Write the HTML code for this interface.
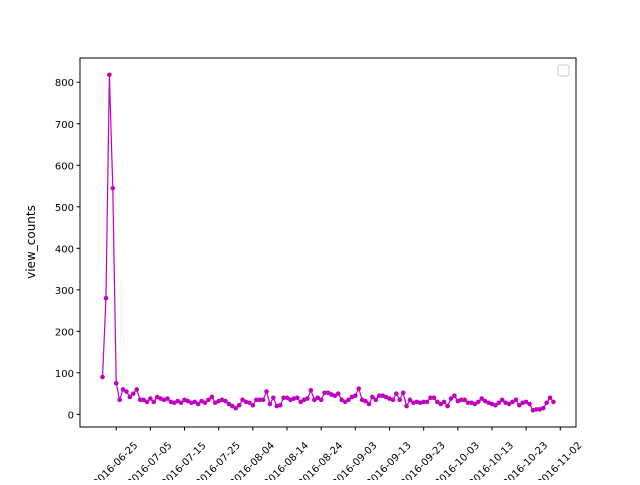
<!DOCTYPE html>
<html><head><meta charset="utf-8"><style>
body{margin:0;background:#fff;overflow:hidden}
svg{font-family:"DejaVu Sans","Liberation Sans",sans-serif}
</style></head><body>
<svg id="chart" width="640" height="480" viewBox="0 0 640 480">
<rect x="0" y="0" width="640" height="480" fill="#fff"/>
<g id="grid"></g>
<g id="series"></g>
<rect x="80" y="58" width="496" height="369" fill="none" stroke="#000" stroke-width="1"/>
<rect x="558" y="65" width="11" height="11" rx="2" fill="#fff" stroke="#ccc"/>
<text x="35" y="242" font-size="12" text-anchor="middle" transform="rotate(-90 35 242)">view_counts</text>
</svg>
<script>
const startDate = "2016-06-21";
const viewCounts = [90,280,818,545,75,35,60,55,42,50,
60,35,35,30,38,30,42,38,35,38,
30,28,32,28,35,32,28,30,25,32,
28,35,42,28,32,35,32,25,20,15,22,
35,30,28,22,35,35,35,55,25,40,
20,22,40,40,35,38,40,30,35,38,
58,35,40,35,52,52,48,45,50,35,30,
35,42,45,62,35,32,25,42,35,45,
45,42,38,35,50,35,52,20,35,28,
30,28,30,30,40,40,30,25,30,20,
38,45,32,35,35,28,28,25,30,38,
32,28,25,22,28,35,28,25,30,35,
22,28,30,25,10,12,12,15,28,40,30];
const yTicks = [0,100,200,300,400,500,600,700,800];
const xTickLabels = ["2016-06-25","2016-07-05","2016-07-15","2016-07-25","2016-08-04","2016-08-14","2016-08-24","2016-09-03","2016-09-13","2016-09-23","2016-10-03","2016-10-13","2016-10-23","2016-11-02"];

const NS="http://www.w3.org/2000/svg";
const L=80,R=576,T=58,B=427;
const DAY=86400000;
const t0=Date.parse(startDate);
const n=viewCounts.length;
const span=n-1, xmin=-span*0.05, xmax=span*1.05;
const vmin=Math.min(...viewCounts), vmax=Math.max(...viewCounts);
const ymin=vmin-(vmax-vmin)*0.05, ymax=vmax+(vmax-vmin)*0.05;
const xs=d=>L+(d-xmin)/(xmax-xmin)*(R-L);
const ys=v=>B-(v-ymin)/(ymax-ymin)*(B-T);
const grid=document.getElementById('grid'), ser=document.getElementById('series');
function mk(tag,attrs,parent){const e=document.createElementNS(NS,tag);for(const k in attrs)e.setAttribute(k,attrs[k]);parent.appendChild(e);return e;}

yTicks.forEach(v=>{
  const y=ys(v);
  const tk=mk('line',{x1:L-3.5,x2:L,y1:y,y2:y,stroke:'#000'},grid);
  
  
  const tx=mk('text',{x:L-6,y:y+4,'font-size':'10','text-anchor':'end'},grid);
  tx.textContent=v;
  
  
});
xTickLabels.forEach(s=>{
  const d=(Date.parse(s)-t0)/DAY;
  const x=xs(d);
  const tk=mk('line',{x1:x,x2:x,y1:B,y2:B+3.5,stroke:'#000'},grid);
  
  
  const ax=x-1, ay=B+37;
  const tx=mk('text',{x:ax,y:ay+3.5,'font-size':'10','text-anchor':'middle',transform:`rotate(-45 ${ax} ${ay})`},grid);
  tx.textContent=s;
  
  
});
const pts=viewCounts.map((v,i)=>xs(i).toFixed(2)+','+ys(v).toFixed(2)).join(' ');
const pl=mk('polyline',{points:pts,fill:'none',stroke:'#bf00bf','stroke-width':'1.2'},ser);


viewCounts.forEach((v,i)=>{
  const c=mk('circle',{cx:xs(i),cy:ys(v),r:2.3,fill:'#bf00bf'},ser);
  
  
});
</script>
</body></html>
